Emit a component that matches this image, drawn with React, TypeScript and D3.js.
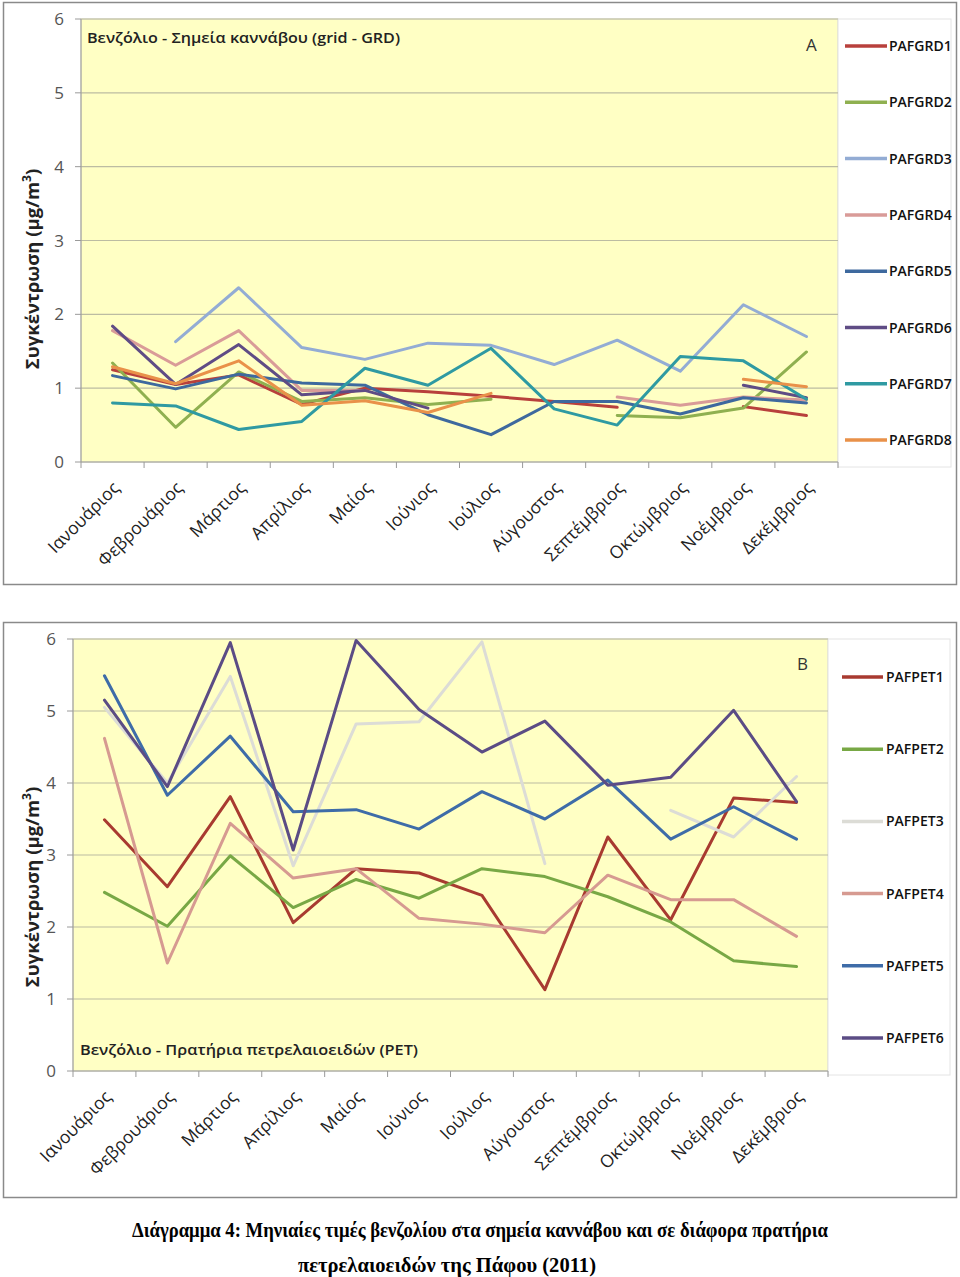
import React from "react";
import * as d3 from "d3";

const months = ["Ιανουάριος","Φεβρουάριος","Μάρτιος","Απρίλιος","Μαίος","Ιούνιος","Ιούλιος","Αύγουστος","Σεπτέμβριος","Οκτώμβριος","Νοέμβριος","Δεκέμβριος"];
const yTicks = [0, 1, 2, 3, 4, 5, 6];

const grdNames = ["PAFGRD1","PAFGRD2","PAFGRD3","PAFGRD4","PAFGRD5","PAFGRD6","PAFGRD7","PAFGRD8"];
const grdColors = ["#b8403c","#8fb050","#93acd4","#d99b98","#3e699e","#5f4c85","#2f9aa2","#e99149"];
const PAFGRD1 = [1.25, 1.05, 1.18, 0.78, 1.00, 0.95, 0.89, 0.82, 0.74, null, 0.75, 0.63];
const PAFGRD2 = [1.34, 0.47, 1.22, 0.82, 0.87, 0.78, 0.85, null, 0.63, 0.60, 0.73, 1.49];
const PAFGRD3 = [null, 1.63, 2.36, 1.55, 1.39, 1.61, 1.58, 1.32, 1.65, 1.23, 2.13, 1.70];
const PAFGRD4 = [1.78, 1.31, 1.78, 0.97, 0.97, null, null, null, 0.88, 0.77, 0.88, 0.84];
const PAFGRD5 = [1.17, 0.99, 1.19, 1.07, 1.04, 0.64, 0.37, 0.82, 0.82, 0.65, 0.87, 0.80];
const PAFGRD6 = [1.84, 1.05, 1.59, 0.91, 0.97, 0.73, null, null, null, null, 1.04, 0.87];
const PAFGRD7 = [0.80, 0.76, 0.44, 0.55, 1.27, 1.04, 1.54, 0.72, 0.50, 1.43, 1.37, 0.85];
const PAFGRD8 = [1.29, 1.06, 1.37, 0.77, 0.83, 0.67, 0.93, null, null, null, 1.12, 1.02];

const petNames = ["PAFPET1","PAFPET2","PAFPET3","PAFPET4","PAFPET5","PAFPET6"];
const petColors = ["#a83a30","#78a845","#dcdcd6","#d69a91","#3e6ca8","#5b4c85"];
const PAFPET1 = [3.49, 2.56, 3.81, 2.06, 2.81, 2.75, 2.44, 1.13, 3.25, 2.10, 3.79, 3.73];
const PAFPET2 = [2.48, 2.01, 2.99, 2.27, 2.66, 2.40, 2.81, 2.70, 2.42, 2.07, 1.53, 1.45];
const PAFPET3 = [5.05, 4.00, 5.48, 2.85, 4.82, 4.85, 5.96, 2.88, null, 3.62, 3.25, 4.09];
const PAFPET4 = [4.62, 1.50, 3.44, 2.68, 2.81, 2.12, 2.04, 1.92, 2.72, 2.38, 2.38, 1.87];
const PAFPET5 = [5.49, 3.83, 4.65, 3.60, 3.63, 3.36, 3.88, 3.50, 4.04, 3.22, 3.67, 3.22];
const PAFPET6 = [5.15, 3.95, 5.95, 3.07, 5.98, 5.02, 4.43, 4.86, 3.97, 4.08, 5.01, 3.74];

const grdSeries = [PAFGRD1, PAFGRD2, PAFGRD3, PAFGRD4, PAFGRD5, PAFGRD6, PAFGRD7, PAFGRD8];
const petSeries = [PAFPET1, PAFPET2, PAFPET3, PAFPET4, PAFPET5, PAFPET6];

const SANS = "'Open Sans', 'DejaVu Sans', sans-serif";
const SERIF = "'Liberation Serif', 'Times New Roman', serif";

type ChartProps = {
  frame: { x: number; y: number; w: number; h: number };
  plot: { l: number; r: number; t: number; b: number };
  series: (number | null)[][];
  names: string[];
  colors: string[];
  title: string;
  titleX: number;
  titleY: number;
  titleLen: number;
  letter: string;
  letterX: number;
  letterY: number;
  legend: { x1: number; x2: number; tx: number; y0: number; step: number; box: { x: number; y: number; w: number; h: number } };
  ylabelX: number;
  ylabelY: number;
};

function Chart(p: ChartProps) {
  const { plot } = p;
  const x = d3.scaleBand<string>().domain(months).range([plot.l, plot.r]).padding(0);
  const y = d3.scaleLinear().domain([0, 6]).range([plot.b, plot.t]);
  const cx = (i: number) => (x(months[i]) as number) + x.bandwidth() / 2;
  const line = d3
    .line<number | null>()
    .defined((d) => d != null)
    .x((_, i) => cx(i))
    .y((d) => y(d as number));
  const tickXs = months.map((m) => x(m) as number).concat([plot.r]);
  return (
    <g>
      <rect x={p.frame.x} y={p.frame.y} width={p.frame.w} height={p.frame.h} fill="#fff" stroke="#8a8a8a" strokeWidth={1.5} />
      <rect x={plot.l} y={plot.t} width={plot.r - plot.l} height={plot.b - plot.t} fill="#ffffc4" stroke="#d6d6c0" strokeWidth={1} />
      <rect x={p.legend.box.x} y={p.legend.box.y} width={p.legend.box.w} height={p.legend.box.h} fill="#fff" stroke="#e4e4e4" strokeWidth={1} />
      {yTicks.map((t) => (
        <g key={t}>
          {t > 0 && <line x1={plot.l} x2={plot.r} y1={y(t)} y2={y(t)} stroke="#bcbca2" strokeWidth={1.2} />}
          <line x1={plot.l - 6} x2={plot.l} y1={y(t)} y2={y(t)} stroke="#9a9a9a" strokeWidth={1} />
          <text x={plot.l - 17} y={y(t) + 6} textAnchor="end" fontFamily={SANS} fontSize={17} fill="#555">{t}</text>
        </g>
      ))}
      <line x1={plot.l} x2={plot.l} y1={plot.t} y2={plot.b} stroke="#9a9a9a" strokeWidth={1} />
      <line x1={plot.l} x2={plot.r} y1={plot.b} y2={plot.b} stroke="#9a9a9a" strokeWidth={1} />
      {tickXs.map((tx, i) => (
        <line key={i} x1={tx} x2={tx} y1={plot.b} y2={plot.b + 6} stroke="#9a9a9a" strokeWidth={1} />
      ))}
      {months.map((m, i) => (
        <text key={m} transform={`translate(${cx(i) + 8},${plot.b + 27}) rotate(-45)`} textAnchor="end" fontFamily={SANS} fontSize={17.5} fill="#222">{m}</text>
      ))}
      {p.series.map((s, i) => (
        <path key={i} d={line(s) || ""} fill="none" stroke={p.colors[i]} strokeWidth={3} strokeLinejoin="round" strokeLinecap="round" />
      ))}
      <text x={p.titleX} y={p.titleY} fontFamily={SANS} fontWeight={600} fontSize={15} fill="#222" textLength={p.titleLen} lengthAdjust="spacingAndGlyphs">{p.title}</text>
      <text x={p.letterX} y={p.letterY} fontFamily={SANS} fontSize={17} fill="#333">{p.letter}</text>
      <text transform={`translate(${p.ylabelX},${p.ylabelY}) rotate(-90)`} textAnchor="middle" fontFamily={SANS} fontWeight={700} fontSize={18.5} fill="#222">
        Συγκέντρωση (μg/m<tspan baselineShift="super" fontSize={12}>3</tspan>)
      </text>
      {p.names.map((n, i) => {
        const ly = p.legend.y0 + i * p.legend.step;
        return (
          <g key={n}>
            <line x1={p.legend.x1} x2={p.legend.x2} y1={ly} y2={ly} stroke={p.colors[i]} strokeWidth={3.5} />
            <text x={p.legend.tx} y={ly + 5} fontFamily={SANS} fontWeight={600} fontSize={14} fill="#111">{n}</text>
          </g>
        );
      })}
    </g>
  );
}

export default function App() {
  return (
    <svg width={960} height={1277} style={{ position: "absolute", left: 0, top: 0, background: "#fff" }}>
      <Chart
        frame={{ x: 3.5, y: 2.5, w: 953, h: 582 }}
        plot={{ l: 81, r: 838, t: 19, b: 462 }}
        series={grdSeries}
        names={grdNames}
        colors={grdColors}
        title="Βενζόλιο - Σημεία καννάβου (grid - GRD)"
        titleX={87}
        titleY={43}
        titleLen={313}
        letter="A"
        letterX={806}
        letterY={51}
        legend={{ x1: 845, x2: 887, tx: 889, y0: 46, step: 56.3, box: { x: 838, y: 19, w: 113, h: 448 } }}
        ylabelX={39}
        ylabelY={269}
      />
      <Chart
        frame={{ x: 3.5, y: 622.5, w: 953, h: 575 }}
        plot={{ l: 73, r: 828, t: 639, b: 1071 }}
        series={petSeries}
        names={petNames}
        colors={petColors}
        title="Βενζόλιο - Πρατήρια πετρελαιοειδών  (PET)"
        titleX={80}
        titleY={1055}
        titleLen={338}
        letter="B"
        letterX={797}
        letterY={670}
        legend={{ x1: 842, x2: 883, tx: 886, y0: 677, step: 72.2, box: { x: 828, y: 639, w: 122, h: 436 } }}
        ylabelX={39}
        ylabelY={887}
      />
      <text x={132} y={1237} fontFamily={SERIF} fontWeight={700} fontSize={20} fill="#000" textLength={696} lengthAdjust="spacingAndGlyphs">
        Διάγραμμα 4: Μηνιαίες τιμές βενζολίου στα σημεία καννάβου και σε διάφορα πρατήρια
      </text>
      <text x={298} y={1272} fontFamily={SERIF} fontWeight={700} fontSize={20} fill="#000" textLength={298} lengthAdjust="spacingAndGlyphs">
        πετρελαιοειδών της Πάφου (2011)
      </text>
    </svg>
  );
}
